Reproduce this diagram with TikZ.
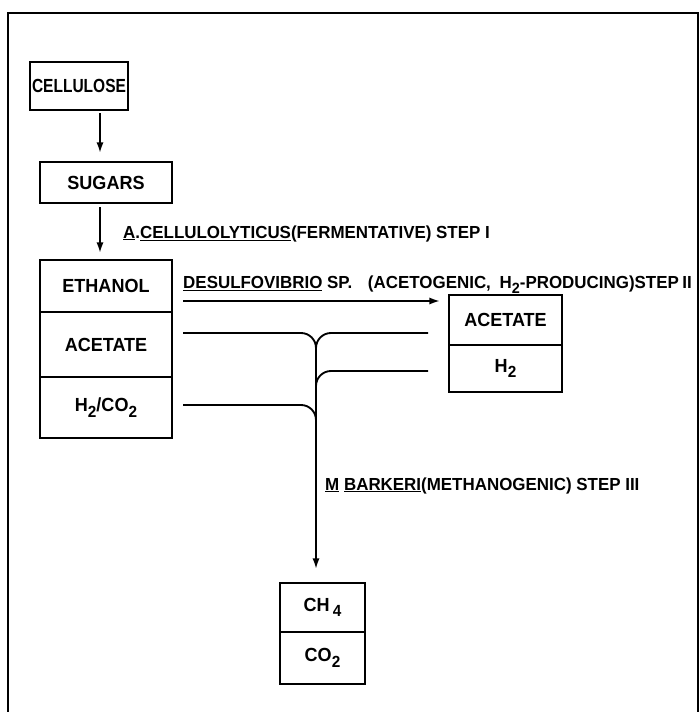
\documentclass[tikz,border=0pt]{standalone}
\usepackage{fontspec}
\setmainfont{Liberation Sans}
\usepackage{graphicx}
\usetikzlibrary{arrows.meta, positioning}

\newfontfamily\boxfont{Liberation Sans}[FakeStretch=0.95]
\newfontfamily\lblfont{Liberation Sans}[FakeStretch=0.97]
\newcommand{\lowidx}[1]{\raisebox{-0.3em}{\scalebox{0.85}{#1}}}

\tikzset{
  box/.style={draw, line width=1.6pt, outer sep=0pt, inner sep=0pt,
    font=\boxfont\bfseries\fontsize{16.2}{18}\selectfont},
  lbl/.style={inner sep=0pt, anchor=base west,
    font=\lblfont\bfseries\fontsize{14.9}{17}\selectfont},
  arr/.style={line width=1.6pt, -{Latex[length=9pt,width=6pt]}},
  flow/.style={line width=1.6pt, rounded corners=.45cm}
}

\begin{document}
\begin{tikzpicture}[x=0.03cm, y=-0.03cm]
  \useasboundingbox (0,0) rectangle (699,712);
  % frame
  \draw[line width=1.4pt] (8,712) -- (8,13) -- (698,13) -- (698,712);

  % substrate chain
  \node[box, minimum width=2.94cm, minimum height=1.44cm] (cellulose) at (79,86)
    {\scalebox{0.86}[1]{CELLULOSE}};
  \node[box, minimum width=3.96cm, minimum height=1.23cm] (sugars) at (106,182.5) {SUGARS};

  % step I products
  \node[box, minimum width=3.96cm, minimum height=1.56cm] (ethanol) at (106,286) {ETHANOL};
  \node[box, minimum width=3.96cm, minimum height=1.95cm, below=0pt of ethanol] (acetL) {ACETATE};
  \node[box, minimum width=3.96cm, minimum height=1.83cm, below=0pt of acetL] (h2co2)
    {H\lowidx{2}/CO\lowidx{2}};

  % step II products
  \node[box, minimum width=3.39cm, minimum height=1.5cm] (acetR) at (505.5,320) {ACETATE};
  \node[box, minimum width=3.39cm, minimum height=1.41cm, below=0pt of acetR] (htwo) {H\lowidx{2}};

  % step III products
  \node[box, minimum width=2.55cm, minimum height=1.47cm] (methane) at (322.5,607.5) {CH\,\lowidx{4}};
  \node[box, minimum width=2.55cm, minimum height=1.56cm, below=0pt of methane] (cotwo) {CO\lowidx{2}};

  % organisms
  \node[lbl] (stepone) at (123,238)
    {\underline{A}.\underline{CELLULOLYTICUS}(FERMENTATIVE) STEP I};
  \node[lbl] (steptwo) at (183,288)
    {\underline{DESULFOVIBRIO} SP.\hspace{0.9em}(ACETOGENIC,\hspace{0.5em}H\lowidx{2}-PRODUCING)STEP\hspace{0.2em}II};
  \node[lbl] (stepthree) at (325,490)
    {\underline{M} \underline{BARKERI}(METHANOGENIC) STEP III};

  % connectors
  \coordinate (ax) at (100,0);
  \coordinate (trunk) at (316,0);
  \coordinate (yA) at (0,301);
  \coordinate (yB) at (0,333);
  \coordinate (yC) at (0,371);
  \coordinate (yD) at (0,405);

  \draw[arr, shorten <=.1cm, shorten >=.27cm] (cellulose.south -| ax) -- (sugars.north -| ax);
  \draw[arr, shorten <=.12cm, shorten >=.21cm] (sugars.south -| ax) -- (ethanol.north -| ax);
  \draw[arr, shorten <=.33cm, shorten >=.27cm] (ethanol.east |- yA) -- (acetR.west |- yA);

  \draw[flow, arr, shorten >=.42cm] ([xshift=.33cm]acetL.east |- yB) -- (trunk |- yB)
    -- (trunk |- methane.north);
  \draw[flow] ([xshift=-.63cm]acetR.west |- yB) -- (trunk |- yB) -- ++(0,32);
  \draw[flow] ([xshift=-.63cm]htwo.west |- yC) -- (trunk |- yC) -- ++(0,32);
  \draw[flow] ([xshift=.33cm]h2co2.east |- yD) -- (trunk |- yD) -- ++(0,32);
\end{tikzpicture}
\end{document}
